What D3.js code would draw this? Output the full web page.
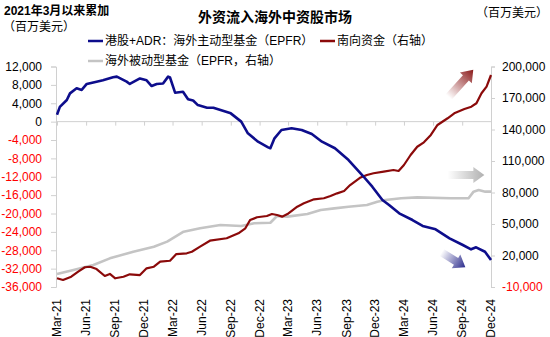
<!DOCTYPE html>
<html><head><meta charset="utf-8">
<script src="https://cdn.jsdelivr.net/npm/d3@7"></script>
<style>
body{margin:0;background:#fff;}
text{font-family:"Liberation Sans",Arial,"Noto Sans CJK SC",sans-serif;}
</style></head>
<body><svg id="c" width="550" height="337"></svg>
<script>
// ---------- data ----------
const tickLabels = ["Mar-21","Jun-21","Sep-21","Dec-21","Mar-22","Jun-22","Sep-22","Dec-22","Mar-23","Jun-23","Sep-23","Dec-23","Mar-24","Jun-24","Sep-24","Dec-24"];
const tickDates = ["2021-03-01","2021-06-01","2021-09-01","2021-12-01","2022-03-01","2022-06-01","2022-09-01","2022-12-01","2023-03-01","2023-06-01","2023-09-01","2023-12-01","2024-03-01","2024-06-01","2024-09-01","2024-12-01"];
const leftTicks = [12000,8000,4000,0,-4000,-8000,-12000,-16000,-20000,-24000,-28000,-32000,-36000];
const rightTicks = [200000,170000,140000,110000,80000,50000,20000,-10000];

// 港股+ADR：海外主动型基金（EPFR） — left axis
const activeDates = ["2021-03-01","2021-03-10","2021-04-01","2021-04-11","2021-05-02","2021-05-18","2021-06-03","2021-07-04","2021-07-24","2021-08-25","2021-09-06","2021-10-07","2021-10-17","2021-11-18","2021-12-09","2021-12-25","2022-01-10","2022-01-30","2022-02-15","2022-02-21","2022-03-09","2022-04-03","2022-04-19","2022-05-05","2022-05-20","2022-06-18","2022-07-08","2022-09-01","2022-10-04","2022-10-25","2022-11-26","2022-12-28","2023-01-04","2023-01-17","2023-02-08","2023-03-12","2023-04-13","2023-05-15","2023-06-16","2023-07-27","2023-09-08","2023-10-21","2023-11-22","2023-12-24","2024-01-14","2024-02-15","2024-03-28","2024-04-29","2024-06-09","2024-07-23","2024-09-03","2024-09-29","2024-10-15","2024-11-12","2024-12-01"];
const activeValues = [1500,3200,4700,6150,7250,6900,8200,8700,9000,9650,9800,8700,8200,9400,9000,7750,8200,8300,9800,9600,6300,6500,4850,4600,3600,3030,3030,1800,0,-2550,-4370,-5600,-5800,-3640,-1830,-1460,-1830,-2700,-4370,-5800,-8360,-11620,-14170,-17060,-18150,-19970,-21420,-22700,-23440,-25400,-26860,-27800,-27360,-28320,-30130];

// 南向资金（右轴） — right axis
const southDates = ["2021-03-01","2021-03-20","2021-04-15","2021-05-07","2021-05-28","2021-06-14","2021-07-04","2021-07-30","2021-08-15","2021-09-01","2021-09-27","2021-10-17","2021-11-18","2021-12-09","2022-01-01","2022-01-21","2022-02-21","2022-03-13","2022-04-15","2022-05-01","2022-05-27","2022-06-27","2022-08-19","2022-09-25","2022-10-17","2022-11-01","2022-11-23","2022-12-24","2023-01-09","2023-01-25","2023-02-10","2023-02-27","2023-03-30","2023-04-20","2023-05-22","2023-06-22","2023-07-13","2023-08-03","2023-08-25","2023-09-13","2023-10-14","2023-11-05","2023-11-26","2023-12-28","2024-01-28","2024-02-13","2024-03-01","2024-03-22","2024-04-12","2024-05-03","2024-05-25","2024-06-15","2024-07-17","2024-08-07","2024-09-08","2024-09-30","2024-10-16","2024-11-01","2024-11-17","2024-12-01"];
const southValues = [-1700,-3300,-200,4600,8800,9300,7100,500,2400,-1700,-200,2100,1400,7800,9300,14100,15000,21400,22100,23600,28400,34100,36400,41100,45900,53800,56400,57600,59500,58600,57000,59500,66500,69700,73500,74500,76700,79200,81500,87100,94000,96700,98300,99800,101400,100500,106200,115700,123600,127800,134800,144300,150700,155400,159500,161700,165000,174500,180800,191900];

// 海外被动型基金（EPFR，右轴） — right axis
const passiveDates = ["2021-03-01","2021-04-22","2021-06-24","2021-08-15","2021-10-28","2022-01-01","2022-02-12","2022-04-05","2022-05-27","2022-07-30","2022-10-04","2022-11-14","2023-01-04","2023-01-25","2023-02-27","2023-05-01","2023-06-12","2023-07-25","2023-09-08","2023-11-05","2023-12-08","2024-01-02","2024-02-21","2024-04-12","2024-07-27","2024-09-21","2024-10-07","2024-10-23","2024-11-13","2024-12-01"];
const passiveValues = [2400,6200,11000,17300,23600,28400,33200,42700,45900,49000,48100,50700,51200,57600,57000,59500,63300,64900,66500,68100,71200,72900,74500,75400,74500,74500,80800,82400,80800,80800];

const seriesNames = ["港股+ADR：海外主动型基金（EPFR）","南向资金（右轴）","海外被动型基金（EPFR，右轴）"];
const colors = ["#0D0D8C","#8B0A0A","#C4C4C4"];

// ---------- setup ----------
const parse = d3.timeParse("%Y-%m-%d");
const svg = d3.select("#c");
const X0 = 57, X1 = 491, YT = 66.5, YB = 287;
const x = d3.scaleTime().domain([parse("2021-03-01"), parse("2024-12-01")]).range([X0, X1]);
const yL = d3.scaleLinear().domain([-36000, 12000]).range([YB, YT]);
const yR = d3.scaleLinear().domain([-10000, 200000]).range([YB, YT]);
const fmt = v => (v < 0 ? "-" : "") + d3.format(",")(Math.abs(v));
const axisCol = "#D0D0D0";

// ---------- axes ----------
const gL = svg.append("g").attr("transform", `translate(${X0 - 1},0)`)
  .call(d3.axisLeft(yL).tickValues(leftTicks).tickSize(5).tickPadding(9).tickFormat(fmt));
gL.selectAll("path,line").attr("stroke", axisCol);
gL.selectAll("text").attr("font-size", 12).attr("fill", d => d < 0 ? "#FF0000" : "#000");

const gR = svg.append("g").attr("transform", `translate(${X1},0)`)
  .call(d3.axisRight(yR).tickValues(rightTicks).tickSize(4).tickPadding(7).tickFormat(fmt));
gR.selectAll("path,line").attr("stroke", axisCol);
gR.selectAll("text").attr("font-size", 12).attr("fill", d => d < 0 ? "#FF0000" : "#000");

const tDates = tickDates.map(parse);
const gX = svg.append("g").attr("transform", `translate(0,${yL(0)})`)
  .call(d3.axisBottom(x).tickValues(tDates).tickSize(4).tickFormat(""));
gX.selectAll("path,line").attr("stroke", axisCol);
gX.select("path").attr("d", `M${X0 - 1},0H${X1}`);

svg.append("g").selectAll("text").data(tickLabels).join("text")
  .attr("transform", (d, i) => `translate(${x(tDates[i])},299) rotate(-90)`)
  .attr("text-anchor", "end").attr("dy", "0.35em").attr("font-size", 12).text(d => d);

// ---------- arrows (decorative, placed via scales) ----------
const defs = svg.append("defs");
function arrow(id, col, p0, p1) {
  const dx = p1[0] - p0[0], dy = p1[1] - p0[1];
  const len = Math.hypot(dx, dy), ang = Math.atan2(dy, dx) * 180 / Math.PI;
  const g = defs.append("linearGradient").attr("id", id).attr("x1", 0).attr("x2", 1).attr("y1", 0).attr("y2", 0);
  g.append("stop").attr("offset", 0).attr("stop-color", col).attr("stop-opacity", 0);
  g.append("stop").attr("offset", 1).attr("stop-color", col).attr("stop-opacity", 1);
  const hl = 11, sw = 4, hw = 8;
  const pts = [[0, -sw], [len - hl, -sw], [len - hl, -hw], [len, 0], [len - hl, hw], [len - hl, sw], [0, sw]];
  svg.append("polygon").attr("points", pts.map(p => p.join(",")).join(" "))
    .attr("transform", `translate(${p0[0]},${p0[1]}) rotate(${ang})`)
    .attr("fill", `url(#${id})`);
}
arrow("gRed", "#8B1A1A", [x(parse("2024-07-20")), yR(171000)], [x(parse("2024-10-06")), yR(197000)]);
arrow("gGray", "#B0B0B0", [x(parse("2024-07-17")), yR(96700)], [x(parse("2024-11-10")), yR(96700)]);
arrow("gBlue", "#2B2B8C", [x(parse("2024-06-28")), yL(-28450)], [x(parse("2024-09-11")), yL(-31700)]);

// ---------- lines ----------
const mk = (ds, vs) => ds.map((d, i) => ({ d: parse(d), v: vs[i] }));
const lineR = d3.line().x(p => x(p.d)).y(p => yR(p.v));
const lineL = d3.line().x(p => x(p.d)).y(p => yL(p.v));
svg.append("path").datum(mk(passiveDates, passiveValues)).attr("d", lineR)
  .attr("fill", "none").attr("stroke", colors[2]).attr("stroke-width", 2.6).attr("stroke-linejoin", "round");
svg.append("path").datum(mk(southDates, southValues)).attr("d", lineR)
  .attr("fill", "none").attr("stroke", colors[1]).attr("stroke-width", 2.2).attr("stroke-linejoin", "round");
svg.append("path").datum(mk(activeDates, activeValues)).attr("d", lineL)
  .attr("fill", "none").attr("stroke", colors[0]).attr("stroke-width", 2.6).attr("stroke-linejoin", "round");

// ---------- titles ----------
svg.append("text").attr("x", 275).attr("y", 17).attr("dy", "0.35em").attr("text-anchor", "middle")
  .attr("font-size", 14).attr("font-weight", "bold").text("外资流入海外中资股市场");
svg.append("text").attr("x", 4).attr("y", 11).attr("dy", "0.35em").attr("font-size", 12).attr("font-weight", "bold").text("2021年3月以来累加");
svg.append("text").attr("x", 3).attr("y", 27).attr("dy", "0.35em").attr("font-size", 12).text("（百万美元）");
svg.append("text").attr("x", 548).attr("y", 13).attr("dy", "0.35em").attr("text-anchor", "end").attr("font-size", 12).text("（百万美元）");

// ---------- legend ----------
const leg = [{ i: 0, x: 88, y: 41 }, { i: 1, x: 320, y: 41 }, { i: 2, x: 88, y: 61 }];
leg.forEach(l => {
  svg.append("line").attr("x1", l.x).attr("x2", l.x + 15).attr("y1", l.y).attr("y2", l.y)
    .attr("stroke", colors[l.i]).attr("stroke-width", 2.5);
  svg.append("text").attr("x", l.x + 17).attr("y", l.y).attr("dy", "0.35em").attr("font-size", 12).text(seriesNames[l.i]);
});
</script></body></html>
